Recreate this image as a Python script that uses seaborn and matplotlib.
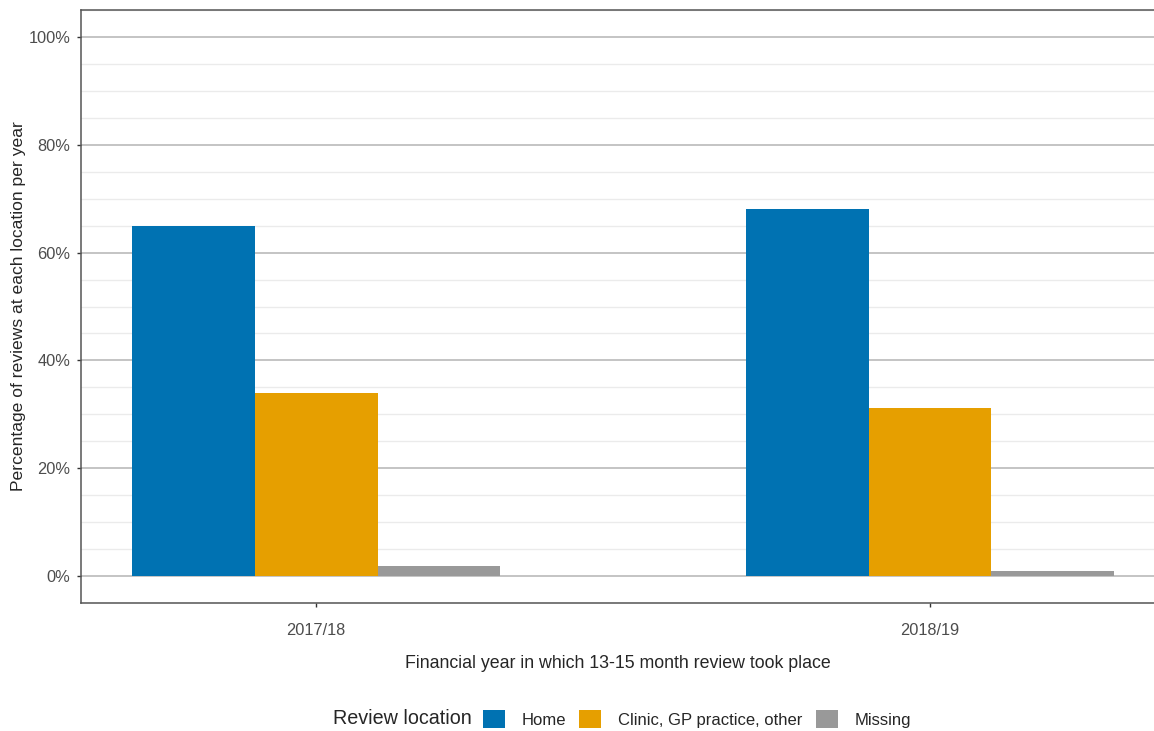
import pandas as pd
import matplotlib
import matplotlib.pyplot as plt
import seaborn as sns
from matplotlib.patches import Patch
from matplotlib.ticker import MultipleLocator, FuncFormatter

years = ["2017/18", "2018/19"]
locations = ["Home", "Clinic, GP practice, other", "Missing"]
home = [65.0, 68.1]
clinic = [33.9, 31.1]
missing = [1.9, 0.9]
colours = ["#0072B2", "#E69F00", "#999999"]

rows = []
for loc, vals in zip(locations, [home, clinic, missing]):
    for yr, v in zip(years, vals):
        rows.append({"year": yr, "location": loc, "pct": v})
data = pd.DataFrame(rows)

sns.set_style("white")
plt.rcParams['font.family'] = ['Liberation Sans', 'DejaVu Sans']

fig = plt.figure(figsize=(11.54, 7.31), dpi=100)
ax = fig.add_axes([81/1154, 128/731, 1 - 81/1154, 593/731])

ax.yaxis.set_major_locator(MultipleLocator(20))
ax.yaxis.set_minor_locator(MultipleLocator(5))
ax.grid(which='major', axis='y', color='#b4b4b4', linewidth=1.1, zorder=0)
ax.grid(which='minor', axis='y', color='#ebebeb', linewidth=1.0, zorder=0)
ax.set_axisbelow(True)

sns.barplot(data=data, x="year", y="pct", hue="location", hue_order=locations,
            palette=colours, width=0.6, gap=0, saturation=1, ax=ax,
            legend=False, linewidth=0, zorder=2)

ax.set_ylim(-5, 105)
ax.set_xlim(-0.383, 1 + 224/614)
ax.yaxis.set_major_formatter(FuncFormatter(lambda v, p: f"{v:.0f}%"))
ax.tick_params(axis='both', which='major', labelcolor='#4d4d4d', labelsize=11.8,
               length=3, width=1, color='#333333', left=True, bottom=True)
ax.tick_params(axis='x', pad=11.5)
ax.tick_params(axis='y', pad=4.5)
ax.tick_params(axis='y', which='minor', length=0)

for s in ['left', 'bottom', 'top']:
    ax.spines[s].set_color('#555555')
    ax.spines[s].set_linewidth(1.1)
ax.spines['right'].set_visible(False)

ax.set_xlabel("Financial year in which 13-15 month review took place", fontsize=12.8, labelpad=12.5)
ax.set_ylabel("Percentage of reviews at each location per year", fontsize=12.6)
ax.yaxis.set_label_coords((26 - 81)/1073, 0.5)

handles = [Patch(facecolor=c, edgecolor='none') for c in colours]
fig.text(333/1154, 1 - 719/731, "Review location", fontsize=14.2, va='center', ha='left')
fig.legend(handles, locations, loc='center left', bbox_to_anchor=(476/1154, 1 - 719/731),
           ncol=3, frameon=False, fontsize=12.0, handlelength=1.32, handleheight=1.32,
           handletextpad=1.0, columnspacing=0.8, borderaxespad=0)

fig.savefig("out.png", dpi=100)
